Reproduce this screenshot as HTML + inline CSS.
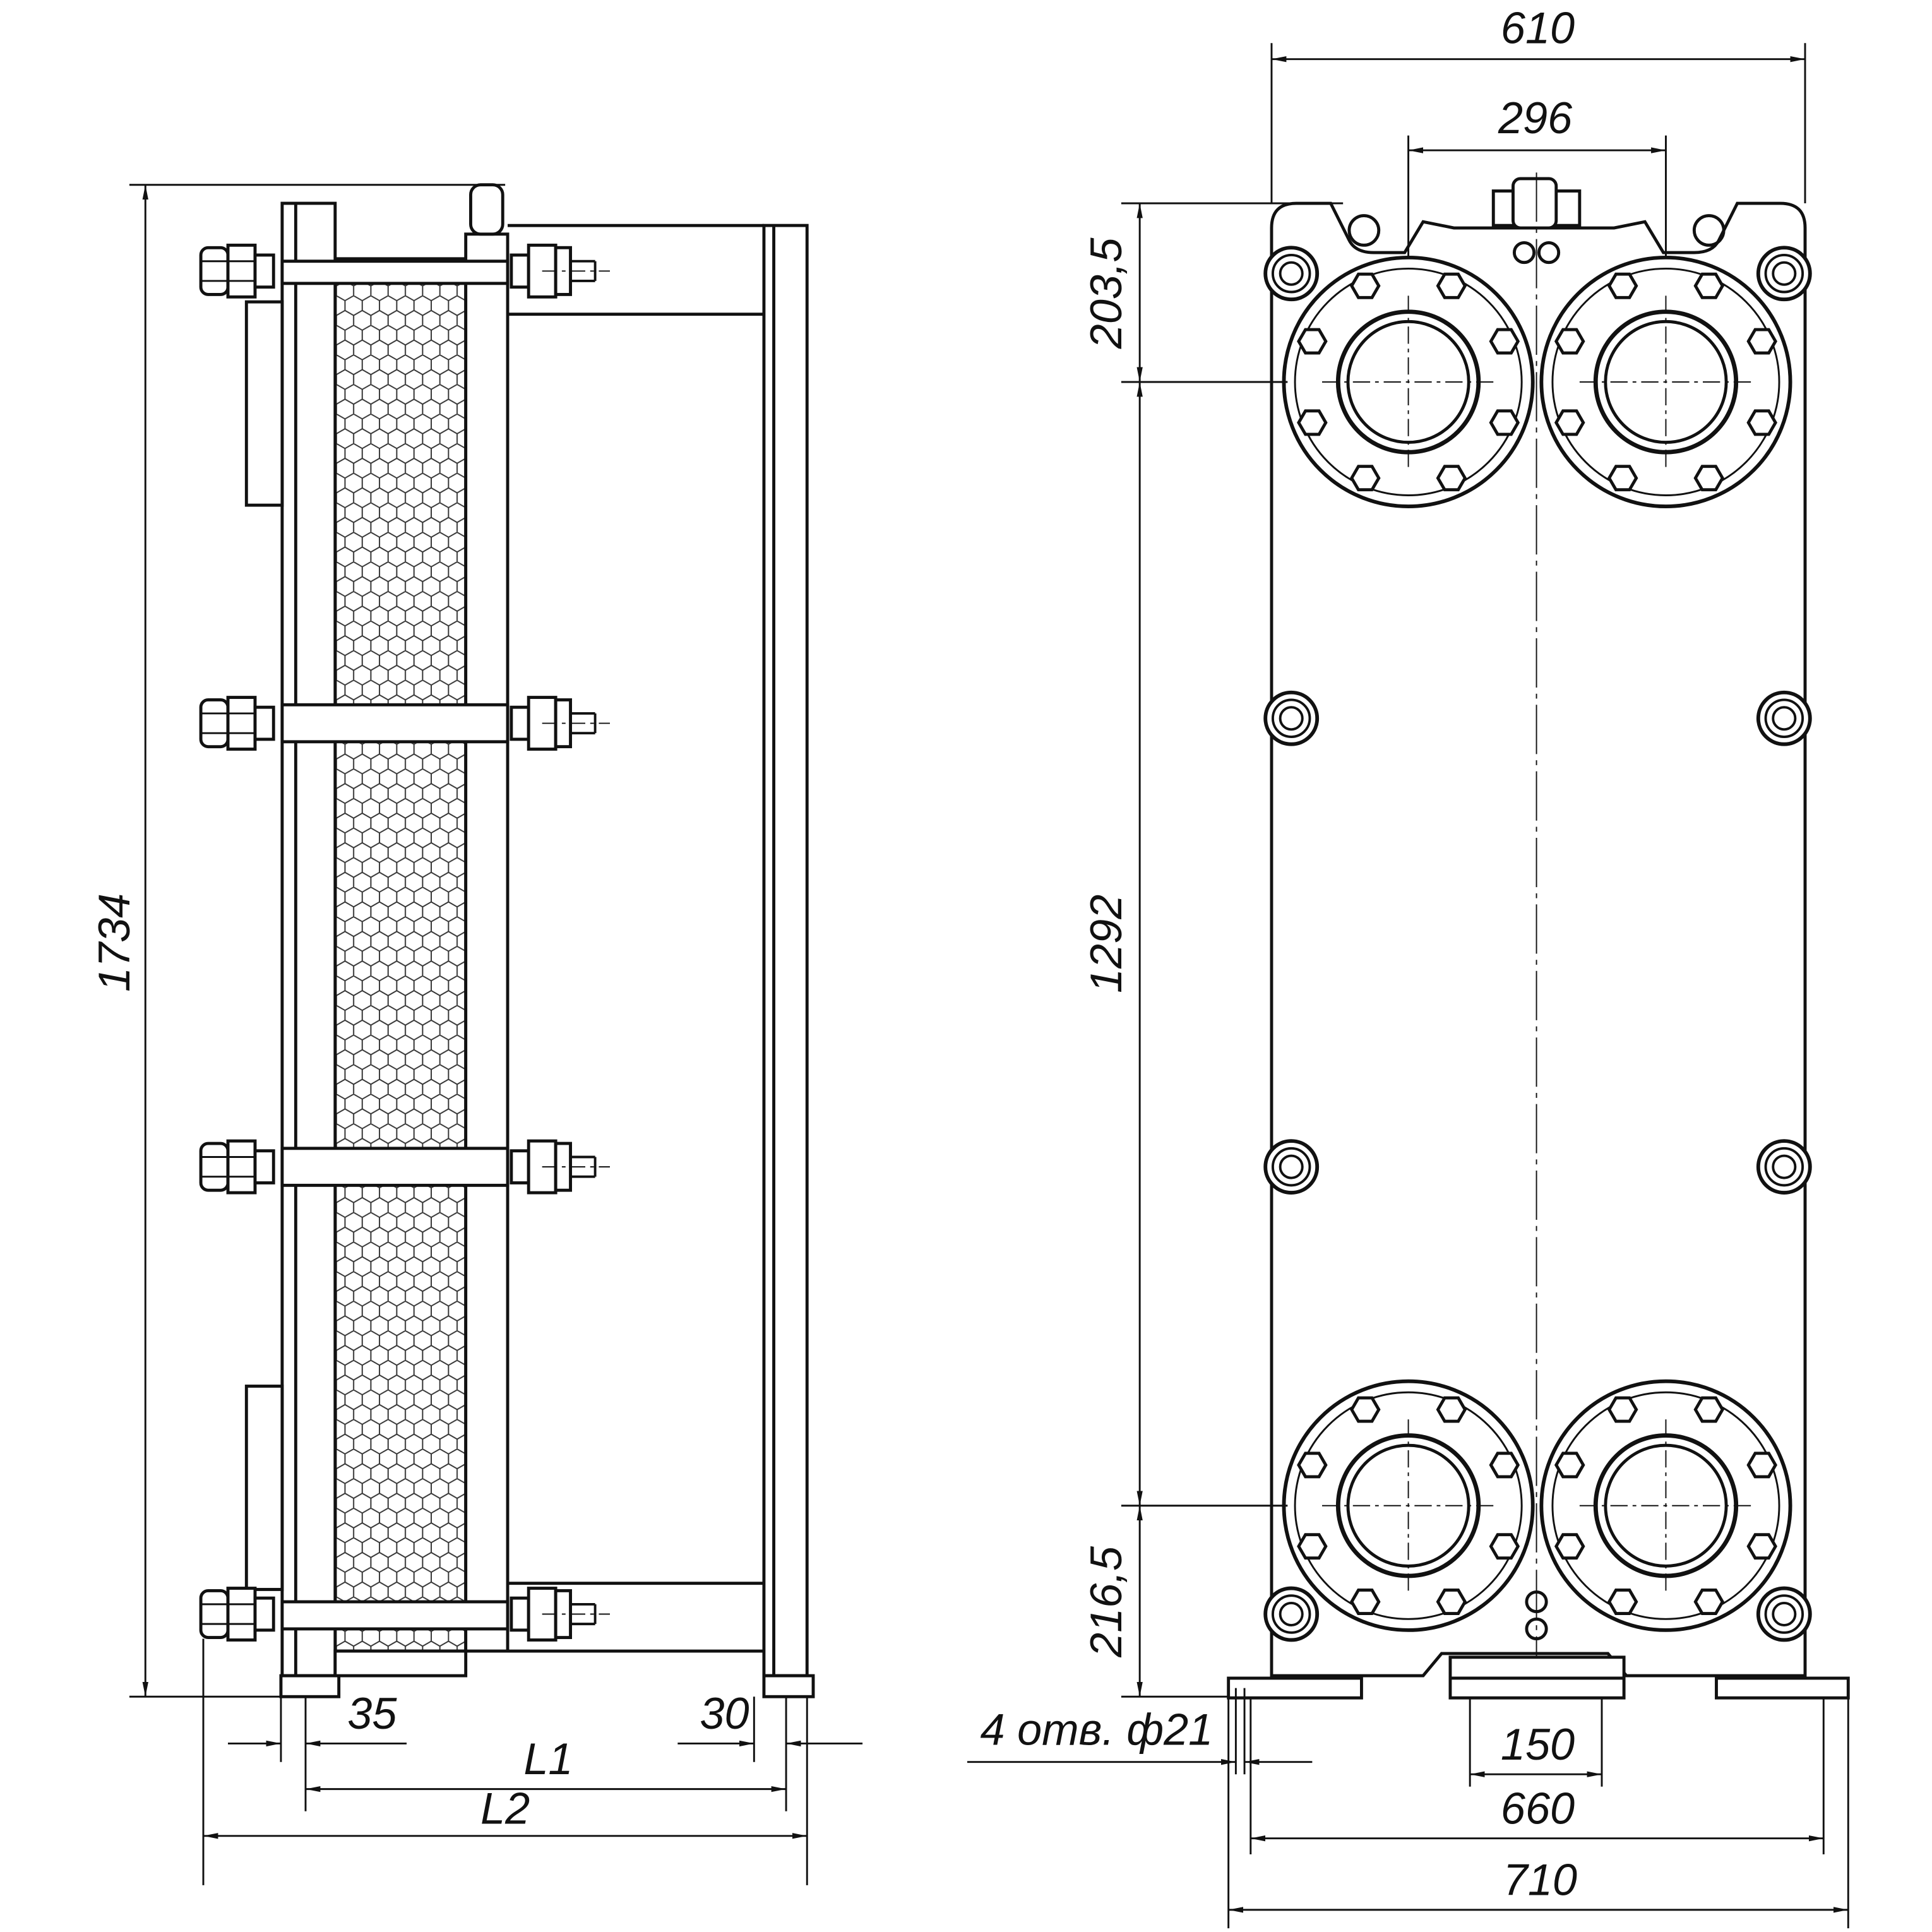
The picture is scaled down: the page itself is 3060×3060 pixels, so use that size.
<!DOCTYPE html>
<html><head><meta charset="utf-8"><style>html,body{margin:0;padding:0;background:#fff}svg{display:block}
text{font-family:"Liberation Sans",sans-serif;font-style:italic;font-size:36px;fill:#111}</style></head>
<body>
<svg width="3060" height="3060" viewBox="0 0 1568 1568" xmlns="http://www.w3.org/2000/svg">
<defs>
<pattern id="hex" width="14" height="24" patternUnits="userSpaceOnUse">
<path d="M0,4 L7,0 L14,4 L14,12 L7,16 L0,12 Z M7,16 L7,24" fill="none" stroke="#333" stroke-width="1"/>
</pattern>
<marker id="a" viewBox="0 0 10 10" refX="10" refY="5" markerWidth="8" markerHeight="8" orient="auto-start-reverse"><path d="M0,3 L10,5 L0,7 Z" fill="#111"/></marker>
<g id="nutL"><rect x="163" y="-19" width="22" height="38" rx="6" fill="#fff" stroke="#111" stroke-width="2.5"/><rect x="185" y="-21" width="22" height="42" fill="#fff" stroke="#111" stroke-width="2.5"/><rect x="207" y="-13" width="15" height="26" fill="#fff" stroke="#111" stroke-width="2.5"/><line x1="163" y1="-8" x2="207" y2="-8" stroke="#111" stroke-width="1.5"/><line x1="163" y1="8" x2="207" y2="8" stroke="#111" stroke-width="1.5"/></g>
<g id="nutR"><rect x="415" y="-13" width="14" height="26" fill="#fff" stroke="#111" stroke-width="2.5"/><rect x="429" y="-21" width="22" height="42" fill="#fff" stroke="#111" stroke-width="2.5"/><rect x="451" y="-19" width="12" height="38" fill="#fff" stroke="#111" stroke-width="2.5"/><line x1="463" y1="-8" x2="483" y2="-8" stroke="#111" stroke-width="2"/><line x1="463" y1="8" x2="483" y2="8" stroke="#111" stroke-width="2"/><line x1="483" y1="-8" x2="483" y2="8" stroke="#111" stroke-width="2"/><line x1="440" y1="0" x2="495" y2="0" stroke="#111" stroke-width="1" stroke-dasharray="12 4 3 4"/></g>
<g id="boltF"><circle r="21" fill="#fff" stroke="#111" stroke-width="3"/><circle r="15" fill="none" stroke="#111" stroke-width="2"/><circle r="9" fill="none" stroke="#111" stroke-width="2"/></g>
<g id="hx"><polygon points="-11,0 -5.5,-9.5 5.5,-9.5 11,0 5.5,9.5 -5.5,9.5" fill="#fff" stroke="#111" stroke-width="2.5"/></g>
<g id="fl">
<circle r="101" fill="#fff" stroke="#111" stroke-width="3"/><circle r="92" fill="none" stroke="#111" stroke-width="1.5"/>
<circle r="57" fill="none" stroke="#111" stroke-width="3.5"/><circle r="49" fill="none" stroke="#111" stroke-width="2.5"/>
<use href="#hx" x="-35" y="-78"/><use href="#hx" x="35" y="-78"/><use href="#hx" x="-35" y="78"/><use href="#hx" x="35" y="78"/>
<use href="#hx" x="-78" y="-33"/><use href="#hx" x="78" y="-33"/><use href="#hx" x="-78" y="33"/><use href="#hx" x="78" y="33"/>
<line x1="-70" y1="0" x2="70" y2="0" stroke="#111" stroke-width="1" stroke-dasharray="14 4 3 4"/><line x1="0" y1="-70" x2="0" y2="70" stroke="#111" stroke-width="1" stroke-dasharray="14 4 3 4"/>
</g>
</defs>
<g fill="none" stroke="#111" stroke-width="2.5">
<!-- LEFT VIEW -->
<rect x="272" y="210" width="106" height="1130" fill="url(#hex)" stroke="#111"/>
<rect x="229" y="165" width="43" height="1195" fill="#fff"/>
<line x1="240" y1="165" x2="240" y2="1360"/>
<rect x="378" y="190" width="34" height="1150" fill="#fff"/>
<rect x="382" y="150" width="26" height="40" rx="8" fill="#fff"/>
<line x1="412" y1="183" x2="620" y2="183"/><line x1="412" y1="255" x2="620" y2="255"/>
<line x1="412" y1="1285" x2="620" y2="1285"/><line x1="412" y1="1340" x2="620" y2="1340"/>
<rect x="620" y="183" width="35" height="1177" fill="#fff"/><line x1="628" y1="183" x2="628" y2="1360"/>
<rect x="228" y="1360" width="47" height="17" fill="#fff"/><rect x="620" y="1360" width="40" height="17" fill="#fff"/>
<rect x="272" y="1340" width="106" height="20" fill="#fff"/>
<rect x="200" y="245" width="29" height="165" fill="#fff"/><rect x="200" y="1125" width="29" height="165" fill="#fff"/>
<g stroke-width="2.5">
<rect x="229" y="212" width="183" height="18" fill="#fff"/><rect x="229" y="572" width="183" height="30" fill="#fff"/>
<rect x="229" y="932" width="183" height="30" fill="#fff"/><rect x="229" y="1300" width="183" height="22" fill="#fff"/>
</g>
<use href="#nutL" y="220"/><use href="#nutR" y="220"/>
<use href="#nutL" y="587"/><use href="#nutR" y="587"/>
<use href="#nutL" y="947"/><use href="#nutR" y="947"/>
<use href="#nutL" y="1310"/><use href="#nutR" y="1310"/>
<!-- left dims -->
<g stroke-width="1.5">
<line x1="105" y1="150" x2="410" y2="150"/><line x1="105" y1="1377" x2="228" y2="1377"/>
<line x1="118" y1="150" x2="118" y2="1377" marker-start="url(#a)" marker-end="url(#a)"/>
<line x1="165" y1="1330" x2="165" y2="1530"/><line x1="228" y1="1377" x2="228" y2="1430"/><line x1="248" y1="1377" x2="248" y2="1470"/>
<line x1="638" y1="1377" x2="638" y2="1470"/><line x1="655" y1="1377" x2="655" y2="1530"/><line x1="612" y1="1377" x2="612" y2="1430"/>
<line x1="185" y1="1415" x2="228" y2="1415" marker-end="url(#a)"/><line x1="248" y1="1415" x2="330" y2="1415" marker-start="url(#a)"/>
<line x1="550" y1="1415" x2="612" y2="1415" marker-end="url(#a)"/><line x1="638" y1="1415" x2="700" y2="1415" marker-start="url(#a)"/>
<line x1="248" y1="1452" x2="638" y2="1452" marker-start="url(#a)" marker-end="url(#a)"/>
<line x1="165" y1="1490" x2="655" y2="1490" marker-start="url(#a)" marker-end="url(#a)"/>
</g>
<!-- RIGHT VIEW -->
<path d="M1032,1360 L1032,185 Q1032,165 1052,165 L1080,165 L1095,195 Q1100,205 1115,205 L1140,205 L1155,180 L1180,185 L1310,185 L1335,180 L1350,205 L1375,205 Q1390,205 1395,195 L1410,165 L1445,165 Q1465,165 1465,185 L1465,1360 L1320,1360 L1305,1342 L1170,1342 L1155,1360 Z" fill="#fff"/>
<circle cx="1107" cy="187" r="12"/><circle cx="1387" cy="187" r="12"/>
<rect x="1212" y="155" width="70" height="28" fill="#fff"/><rect x="1228" y="145" width="35" height="40" rx="6" fill="#fff"/>
<circle cx="1237" cy="205" r="8"/><circle cx="1257" cy="205" r="8"/>
<circle cx="1247" cy="1300" r="8"/><circle cx="1247" cy="1322" r="8"/>
<line x1="1247" y1="140" x2="1247" y2="1345" stroke-width="1" stroke-dasharray="40 5 4 5"/>
<use href="#fl" x="1143" y="310"/><use href="#fl" x="1352" y="310"/>
<use href="#fl" x="1143" y="1222"/><use href="#fl" x="1352" y="1222"/>
<use href="#boltF" x="1048" y="222"/><use href="#boltF" x="1448" y="222"/>
<use href="#boltF" x="1048" y="583"/><use href="#boltF" x="1448" y="583"/>
<use href="#boltF" x="1048" y="947"/><use href="#boltF" x="1448" y="947"/>
<use href="#boltF" x="1048" y="1310"/><use href="#boltF" x="1448" y="1310"/>
<rect x="997" y="1362" width="108" height="16" fill="#fff"/><rect x="1177" y="1345" width="141" height="33" fill="#fff"/><line x1="1177" y1="1362" x2="1318" y2="1362"/><rect x="1393" y="1362" width="107" height="16" fill="#fff"/>
<!-- right dims -->
<g stroke-width="1.5">
<line x1="1032" y1="35" x2="1032" y2="165"/><line x1="1465" y1="35" x2="1465" y2="165"/>
<line x1="1032" y1="48" x2="1465" y2="48" marker-start="url(#a)" marker-end="url(#a)"/>
<line x1="1143" y1="110" x2="1143" y2="210"/><line x1="1352" y1="110" x2="1352" y2="210"/>
<line x1="1143" y1="122" x2="1352" y2="122" marker-start="url(#a)" marker-end="url(#a)"/>
<line x1="910" y1="165" x2="1090" y2="165"/><line x1="910" y1="310" x2="1045" y2="310"/>
<line x1="910" y1="1222" x2="1045" y2="1222"/><line x1="910" y1="1377" x2="997" y2="1377"/>
<line x1="925" y1="165" x2="925" y2="310" marker-start="url(#a)" marker-end="url(#a)"/>
<line x1="925" y1="310" x2="925" y2="1222" marker-start="url(#a)" marker-end="url(#a)"/>
<line x1="925" y1="1222" x2="925" y2="1377" marker-start="url(#a)" marker-end="url(#a)"/>
<line x1="997" y1="1378" x2="997" y2="1565"/><line x1="1500" y1="1378" x2="1500" y2="1565"/>
<line x1="1015" y1="1378" x2="1015" y2="1505"/><line x1="1480" y1="1378" x2="1480" y2="1505"/>
<line x1="1193" y1="1378" x2="1193" y2="1450"/><line x1="1300" y1="1378" x2="1300" y2="1450"/>
<line x1="1193" y1="1440" x2="1300" y2="1440" marker-start="url(#a)" marker-end="url(#a)"/>
<line x1="1015" y1="1492" x2="1480" y2="1492" marker-start="url(#a)" marker-end="url(#a)"/>
<line x1="997" y1="1550" x2="1500" y2="1550" marker-start="url(#a)" marker-end="url(#a)"/>
<line x1="785" y1="1430" x2="1003" y2="1430" marker-end="url(#a)"/><line x1="1010" y1="1430" x2="1065" y2="1430" marker-start="url(#a)"/>
<line x1="1003" y1="1370" x2="1003" y2="1440"/><line x1="1010" y1="1370" x2="1010" y2="1440"/>
</g>
</g>
<text x="1248" y="35" text-anchor="middle">610</text>
<text x="1246" y="108" text-anchor="middle">296</text>
<text transform="translate(910,238) rotate(-90)" text-anchor="middle">203,5</text>
<text transform="translate(910,766) rotate(-90)" text-anchor="middle">1292</text>
<text transform="translate(910,1300) rotate(-90)" text-anchor="middle">216,5</text>
<text transform="translate(105,765) rotate(-90)" text-anchor="middle">1734</text>
<text x="302" y="1403" text-anchor="middle">35</text>
<text x="588" y="1403" text-anchor="middle">30</text>
<text x="445" y="1440" text-anchor="middle">L1</text>
<text x="410" y="1480" text-anchor="middle">L2</text>
<text x="890" y="1416" text-anchor="middle">4 отв. ф21</text>
<text x="1248" y="1428" text-anchor="middle">150</text>
<text x="1248" y="1480" text-anchor="middle">660</text>
<text x="1250" y="1538" text-anchor="middle">710</text>
</svg>
</body></html>
